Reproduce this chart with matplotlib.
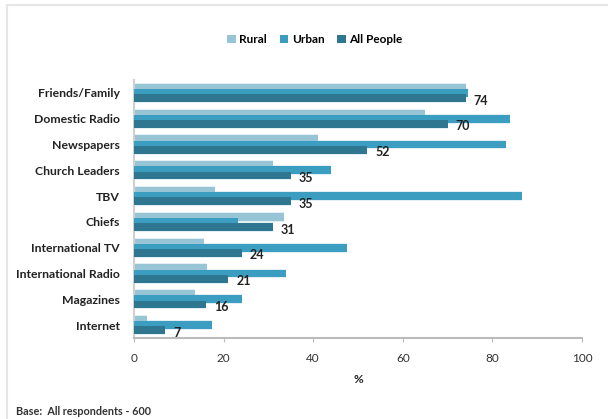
import numpy as np
import matplotlib.pyplot as plt
from matplotlib.patches import Rectangle

plt.rcParams['font.family'] = ['Lato', 'DejaVu Sans']

categories = ['Friends/Family', 'Domestic Radio', 'Newspapers', 'Church Leaders', 'TBV',
              'Chiefs', 'International TV', 'International Radio', 'Magazines', 'Internet']
rural = [74, 65, 41, 31, 18, 33.5, 15.6, 16.4, 13.6, 2.8]
urban = [74.5, 84, 83, 44, 86.6, 23.3, 47.5, 34, 24, 17.3]
all_people = [74, 70, 52, 35, 35, 31, 24, 21, 16, 7]

c_rural = '#97c5d6'
c_urban = '#3b9dbf'
c_all = '#2f7791'

fig = plt.figure(figsize=(6.08, 4.19), dpi=100)
ax = fig.add_axes([0.2204, 0.1933, 0.7368, 0.6158])

y = np.arange(len(categories))
h = 0.3
d = 0.2
# light glow behind each bar, like the original
for off, vals in [(-d, rural), (0, urban), (d, all_people)]:
    ax.barh(y + off, vals, height=h + 0.08, color='#e2f0f5', linewidth=0, zorder=1)
ax.barh(y - d, rural, height=h, color=c_rural, linewidth=0, label='Rural', zorder=2)
ax.barh(y, urban, height=h, color=c_urban, linewidth=0, label='Urban', zorder=3)
ax.barh(y + d, all_people, height=h, color=c_all, linewidth=0, label='All People', zorder=4)

for yi, v in zip(y, all_people):
    ax.text(v + 1.8, yi + d + 0.1, '%d' % v, va='center', ha='left', fontsize=9,
            fontweight='bold', color='#222222', zorder=5)

ax.set_xlim(0, 100)
ax.set_ylim(len(categories) - 0.5, -0.5)
ax.set_yticks(y)
ax.set_yticklabels(categories, fontsize=8.8, fontweight='bold', color='#222222')
ax.set_xticks([0, 20, 40, 60, 80, 100])
ax.tick_params(axis='x', labelsize=8.5, colors='#333333', length=3, color='#bbbbbb', pad=8)
ax.tick_params(axis='y', length=0, pad=10)
ax.set_xlabel('%', fontsize=8.5, fontweight='bold', color='#222222', labelpad=7)

for s in ['top', 'right']:
    ax.spines[s].set_visible(False)
ax.spines['left'].set_color('#d0d0d0')
ax.spines['left'].set_linewidth(1.5)
ax.spines['bottom'].set_color('#bbbbbb')
ax.spines['bottom'].set_linewidth(1.5)

handles, labels = ax.get_legend_handles_labels()
fig.legend(handles, labels, loc='center', bbox_to_anchor=(0.518, 0.905), ncol=3, frameon=False,
           handlelength=0.7, handleheight=0.7, handletextpad=0.3,
           columnspacing=1.1, prop={'weight': 'bold', 'size': 8.5})

fig.patches.append(Rectangle((0.012, -0.1), 1.2, 1.088, transform=fig.transFigure,
                             fill=False, edgecolor='#e6e6e6', linewidth=1.5))

fig.text(0.027, 0.01, 'Base:  All respondents - 600', fontsize=7.8, fontweight='bold',
         color='#333333')

fig.savefig('out.png', dpi=100)
